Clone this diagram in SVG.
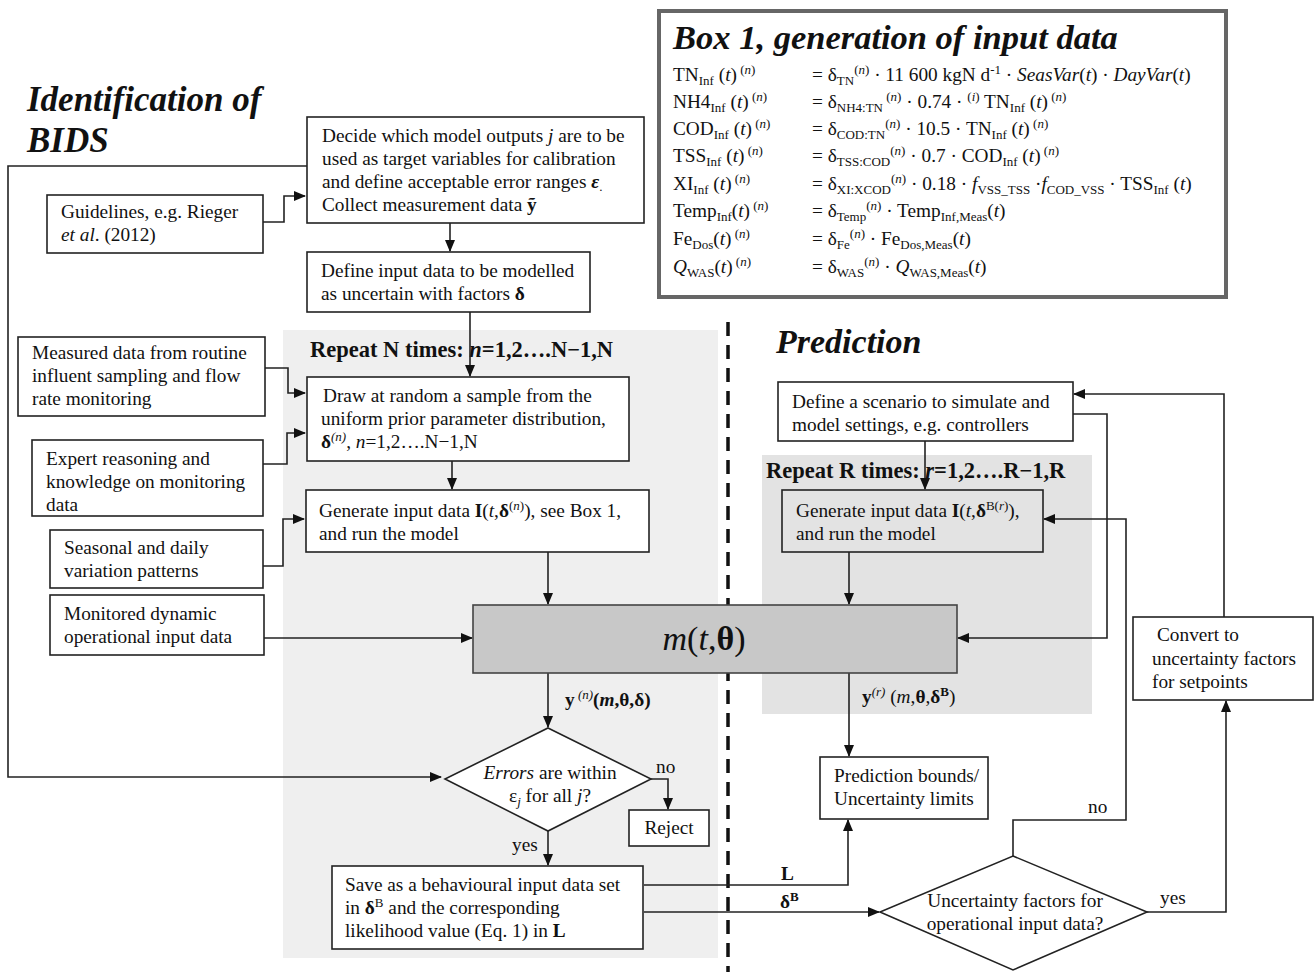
<svg xmlns="http://www.w3.org/2000/svg" width="1316" height="972" viewBox="0 0 1316 972">
<style>
text{font-family:"Liberation Serif","Times New Roman",serif;font-size:19.3px;fill:#111}
.h{font-weight:bold;font-style:italic;font-size:35px}
.rep{font-weight:bold;font-size:22.5px}
.box{fill:#fff;stroke:#222;stroke-width:1.6}
.ln{fill:none;stroke:#222;stroke-width:1.6}
.i{font-style:italic}
.b{font-weight:bold}
.sm{font-size:13px}
.mid{text-anchor:middle}
</style>
<defs>
<marker id="ah" markerWidth="12" markerHeight="10" refX="11" refY="5" orient="auto" markerUnits="userSpaceOnUse">
<path d="M0,0 L12,5 L0,10 z" fill="#111"/>
</marker>
</defs>
<rect width="1316" height="972" fill="#fff"/>
<!-- regions -->
<rect x="283" y="330" width="435" height="628" fill="#efefef"/>
<rect x="762" y="455" width="330" height="259" fill="#e3e3e3"/>
<line x1="728" y1="322" x2="728" y2="972" stroke="#111" stroke-width="3.5" stroke-dasharray="14 9"/>

<!-- titles -->
<text class="h" x="27" y="111">Identification of</text>
<text class="h" x="27" y="152">BIDS</text>
<text class="h" x="776" y="353" style="font-size:34px">Prediction</text>
<text class="rep" x="310" y="357">Repeat N times: <tspan class="i">n</tspan>=1,2….N−1,N</text>
<text class="rep" x="766" y="478">Repeat R times: <tspan class="i">r</tspan>=1,2….R−1,R</text>

<!-- Box 1 -->
<g id="box1">
<rect x="659" y="11" width="567" height="286" fill="#fff" stroke="#666" stroke-width="4"/>
<text x="673" y="49" style="font-weight:bold;font-style:italic;font-size:34.5px">Box 1, generation of input data</text>
<text x="673" y="81">TN<tspan class="sm" baseline-shift="-4">Inf</tspan> (<tspan class="i">t</tspan>)<tspan class="sm" baseline-shift="7"> (<tspan class="i">n</tspan>)</tspan></text>
<text x="812" y="81">= δ<tspan class="sm" baseline-shift="-4">TN</tspan><tspan class="sm" baseline-shift="7">(<tspan class="i">n</tspan>)</tspan> · 11 600 kgN d<tspan class="sm" baseline-shift="7">-1</tspan> · <tspan class="i">SeasVar</tspan>(<tspan class="i">t</tspan>) · <tspan class="i">DayVar</tspan>(<tspan class="i">t</tspan>)</text>
<text x="673" y="108">NH4<tspan class="sm" baseline-shift="-4">Inf</tspan> (<tspan class="i">t</tspan>)<tspan class="sm" baseline-shift="7"> (<tspan class="i">n</tspan>)</tspan></text>
<text x="812" y="108">= δ<tspan class="sm" baseline-shift="-4">NH4:TN</tspan><tspan class="sm" baseline-shift="7"> (<tspan class="i">n</tspan>)</tspan> · 0.74 · <tspan class="sm" baseline-shift="7">(<tspan class="i">i</tspan>)</tspan> TN<tspan class="sm" baseline-shift="-4">Inf</tspan> (<tspan class="i">t</tspan>)<tspan class="sm" baseline-shift="7"> (<tspan class="i">n</tspan>)</tspan></text>
<text x="673" y="135">COD<tspan class="sm" baseline-shift="-4">Inf</tspan> (<tspan class="i">t</tspan>)<tspan class="sm" baseline-shift="7"> (<tspan class="i">n</tspan>)</tspan></text>
<text x="812" y="135">= δ<tspan class="sm" baseline-shift="-4">COD:TN</tspan><tspan class="sm" baseline-shift="7">(<tspan class="i">n</tspan>)</tspan> · 10.5 · TN<tspan class="sm" baseline-shift="-4">Inf</tspan> (<tspan class="i">t</tspan>)<tspan class="sm" baseline-shift="7"> (<tspan class="i">n</tspan>)</tspan></text>
<text x="673" y="162">TSS<tspan class="sm" baseline-shift="-4">Inf</tspan> (<tspan class="i">t</tspan>)<tspan class="sm" baseline-shift="7"> (<tspan class="i">n</tspan>)</tspan></text>
<text x="812" y="162">= δ<tspan class="sm" baseline-shift="-4">TSS:COD</tspan><tspan class="sm" baseline-shift="7">(<tspan class="i">n</tspan>)</tspan> · 0.7 · COD<tspan class="sm" baseline-shift="-4">Inf</tspan> (<tspan class="i">t</tspan>)<tspan class="sm" baseline-shift="7"> (<tspan class="i">n</tspan>)</tspan></text>
<text x="673" y="190">XI<tspan class="sm" baseline-shift="-4">Inf</tspan> (<tspan class="i">t</tspan>)<tspan class="sm" baseline-shift="7"> (<tspan class="i">n</tspan>)</tspan></text>
<text x="812" y="190">= δ<tspan class="sm" baseline-shift="-4">XI:XCOD</tspan><tspan class="sm" baseline-shift="7">(<tspan class="i">n</tspan>)</tspan> · 0.18 · <tspan class="i">f</tspan><tspan class="sm" baseline-shift="-4">VSS_TSS</tspan> ·<tspan class="i">f</tspan><tspan class="sm" baseline-shift="-4">COD_VSS</tspan> · TSS<tspan class="sm" baseline-shift="-4">Inf</tspan> (<tspan class="i">t</tspan>)</text>
<text x="673" y="217">Temp<tspan class="sm" baseline-shift="-4">Inf</tspan>(<tspan class="i">t</tspan>)<tspan class="sm" baseline-shift="7"> (<tspan class="i">n</tspan>)</tspan></text>
<text x="812" y="217">= δ<tspan class="sm" baseline-shift="-4">Temp</tspan><tspan class="sm" baseline-shift="7">(<tspan class="i">n</tspan>)</tspan> · Temp<tspan class="sm" baseline-shift="-4">Inf,Meas</tspan>(<tspan class="i">t</tspan>)</text>
<text x="673" y="245">Fe<tspan class="sm" baseline-shift="-4">Dos</tspan>(<tspan class="i">t</tspan>)<tspan class="sm" baseline-shift="7"> (<tspan class="i">n</tspan>)</tspan></text>
<text x="812" y="245">= δ<tspan class="sm" baseline-shift="-4">Fe</tspan><tspan class="sm" baseline-shift="7">(<tspan class="i">n</tspan>)</tspan> · Fe<tspan class="sm" baseline-shift="-4">Dos,Meas</tspan>(<tspan class="i">t</tspan>)</text>
<text x="673" y="273"><tspan class="i">Q</tspan><tspan class="sm" baseline-shift="-4">WAS</tspan>(<tspan class="i">t</tspan>)<tspan class="sm" baseline-shift="7"> (<tspan class="i">n</tspan>)</tspan></text>
<text x="812" y="273">= δ<tspan class="sm" baseline-shift="-4">WAS</tspan><tspan class="sm" baseline-shift="7">(<tspan class="i">n</tspan>)</tspan> · <tspan class="i">Q</tspan><tspan class="sm" baseline-shift="-4">WAS,Meas</tspan>(<tspan class="i">t</tspan>)</text>
</g>

<!-- connectors -->
<g id="connectors">
<polyline class="ln" points="307,166 8,166 8,777 441,777" marker-end="url(#ah)"/>
<polyline class="ln" points="263,222 284,222 284,196 305,196" marker-end="url(#ah)"/>
<line class="ln" x1="450" y1="223" x2="450" y2="251" marker-end="url(#ah)"/>
<line class="ln" x1="470" y1="312" x2="470" y2="376" marker-end="url(#ah)"/>
<polyline class="ln" points="265,368 288,368 288,393 305,393" marker-end="url(#ah)"/>
<polyline class="ln" points="263,464 287,464 287,433 305,433" marker-end="url(#ah)"/>
<line class="ln" x1="452" y1="461" x2="452" y2="489" marker-end="url(#ah)"/>
<polyline class="ln" points="261,566 283,566 283,519 304,519" marker-end="url(#ah)"/>
<line class="ln" x1="264" y1="638" x2="472" y2="638" marker-end="url(#ah)"/>
<line class="ln" x1="548" y1="552" x2="548" y2="604" marker-end="url(#ah)"/>
<line class="ln" x1="548" y1="673" x2="548" y2="727" marker-end="url(#ah)"/>
<polyline class="ln" points="651,779 668,779 668,809" marker-end="url(#ah)"/>
<line class="ln" x1="548" y1="831" x2="548" y2="865" marker-end="url(#ah)"/>
<polyline class="ln" points="644,885 848,885 848,820" marker-end="url(#ah)"/>
<line class="ln" x1="644" y1="912" x2="879" y2="912" marker-end="url(#ah)"/>
<line class="ln" x1="925" y1="441" x2="925" y2="489" marker-end="url(#ah)"/>
<line class="ln" x1="849" y1="552" x2="849" y2="604" marker-end="url(#ah)"/>
<polyline class="ln" points="1073,414 1107,414 1107,638 958,638" marker-end="url(#ah)"/>
<polyline class="ln" points="1224,617 1224,394 1074,394" marker-end="url(#ah)"/>
<line class="ln" x1="849" y1="673" x2="849" y2="756" marker-end="url(#ah)"/>
<polyline class="ln" points="1013,856 1013,820 1126,820 1126,519 1044,519" marker-end="url(#ah)"/>
<polyline class="ln" points="1147,912 1226,912 1226,701" marker-end="url(#ah)"/>
</g>

<!-- labels -->
<text class="b" x="565" y="706">y<tspan class="sm i" style="font-weight:normal" baseline-shift="7"> (n)</tspan>(<tspan class="i">m</tspan>,θ,δ)</text>
<text x="656" y="773">no</text>
<text x="512" y="851">yes</text>
<text class="b" x="781" y="880">L</text>
<text class="b" x="780" y="908">δ<tspan class="sm" baseline-shift="7">B</tspan></text>
<text x="862" y="703"><tspan class="b">y</tspan><tspan class="sm i" baseline-shift="7">(r)</tspan> (<tspan class="i">m</tspan>,<tspan class="b">θ</tspan>,<tspan class="b">δ</tspan><tspan class="sm b" baseline-shift="7">B</tspan>)</text>
<text x="1088" y="813">no</text>
<text x="1160" y="904">yes</text>

<!-- nodes -->
<g id="decide">
<rect class="box" x="307" y="117" width="337" height="106"/>
<text x="322" y="142">Decide which model outputs <tspan class="i">j</tspan> are to be</text>
<text x="322" y="165">used as target variables for calibration</text>
<text x="322" y="188">and define acceptable error ranges <tspan class="b i">ε</tspan><tspan class="sm" baseline-shift="-3">.</tspan></text>
<text x="322" y="211">Collect measurement data <tspan class="b">ỹ</tspan></text>
</g>
<g id="guidelines">
<rect class="box" x="47" y="195" width="216" height="58"/>
<text x="61" y="218">Guidelines, e.g. Rieger</text>
<text x="61" y="241"><tspan class="i">et al</tspan>. (2012)</text>
</g>
<g id="defineinput">
<rect class="box" x="307" y="252" width="283" height="60"/>
<text x="321" y="277">Define input data to be modelled</text>
<text x="321" y="300">as uncertain with factors <tspan class="b">δ</tspan></text>
</g>
<g id="measured">
<rect class="box" x="18" y="337" width="247" height="79"/>
<text x="32" y="359">Measured data from routine</text>
<text x="32" y="382">influent sampling and flow</text>
<text x="32" y="405">rate monitoring</text>
</g>
<g id="draw">
<rect class="box" x="307" y="377" width="322" height="84"/>
<text x="323" y="402">Draw at random a sample from the</text>
<text x="321" y="425">uniform prior parameter distribution,</text>
<text x="321" y="448"><tspan class="b">δ</tspan><tspan class="sm i" baseline-shift="7">(n)</tspan>, <tspan class="i">n</tspan>=1,2….N−1,N</text>
</g>
<g id="expert">
<rect class="box" x="32" y="440" width="231" height="76"/>
<text x="46" y="465">Expert reasoning and</text>
<text x="46" y="488">knowledge on monitoring</text>
<text x="46" y="511">data</text>
</g>
<g id="generate">
<rect class="box" x="306" y="490" width="343" height="62"/>
<text x="319" y="517">Generate input data <tspan class="b">I</tspan>(<tspan class="i">t</tspan>,<tspan class="b">δ</tspan><tspan class="sm" baseline-shift="7">(<tspan class="i">n</tspan>)</tspan>), see Box 1,</text>
<text x="319" y="540">and run the model</text>
</g>
<g id="seasonal">
<rect class="box" x="50" y="530" width="213" height="58"/>
<text x="64" y="554">Seasonal and daily</text>
<text x="64" y="577">variation patterns</text>
</g>
<g id="monitored">
<rect class="box" x="50" y="595" width="214" height="60"/>
<text x="64" y="620">Monitored dynamic</text>
<text x="64" y="643">operational input data</text>
</g>
<g id="model">
<rect x="473" y="605" width="484" height="68" fill="#c8c8c8" stroke="#444" stroke-width="1.6"/>
<text class="mid" x="704" y="650" style="font-size:34px"><tspan class="i">m</tspan>(<tspan class="i">t</tspan>,<tspan class="b">θ</tspan>)</text>
</g>
<g id="errors">
<polygon points="548,728 651,779 548,831 445,779" fill="#fff" stroke="#222" stroke-width="1.6"/>
<text class="mid" x="550" y="779"><tspan class="i">Errors</tspan> are within</text>
<text class="mid" x="550" y="802">ε<tspan class="sm i" baseline-shift="-4">j</tspan> for all <tspan class="i">j</tspan>?</text>
</g>
<g id="reject">
<rect class="box" x="629" y="810" width="80" height="36"/>
<text class="mid" x="669" y="834">Reject</text>
</g>
<g id="save">
<rect class="box" x="332" y="866" width="311" height="83"/>
<text x="345" y="891">Save as a behavioural input data set</text>
<text x="345" y="914">in <tspan class="b">δ</tspan><tspan class="sm" baseline-shift="7">B</tspan> and the corresponding</text>
<text x="345" y="937">likelihood value (Eq. 1) in  <tspan class="b">L</tspan></text>
</g>
<g id="scenario">
<rect class="box" x="778" y="382" width="295" height="59"/>
<text x="792" y="408">Define a scenario to simulate and</text>
<text x="792" y="431">model settings, e.g. controllers</text>
</g>
<g id="generate2">
<rect x="782" y="490" width="261" height="62" fill="#e3e3e3" stroke="#222" stroke-width="1.6"/>
<text x="796" y="517">Generate input data <tspan class="b">I</tspan>(<tspan class="i">t</tspan>,<tspan class="b">δ</tspan><tspan class="sm" baseline-shift="7">B(<tspan class="i">r</tspan>)</tspan>),</text>
<text x="796" y="540">and run the model</text>
</g>
<g id="convert">
<rect class="box" x="1133" y="617" width="180" height="83"/>
<text x="1157" y="641">Convert to</text>
<text x="1152" y="665">uncertainty factors</text>
<text x="1152" y="688">for setpoints</text>
</g>
<g id="bounds">
<rect class="box" x="820" y="757" width="168" height="62"/>
<text x="834" y="782">Prediction bounds/</text>
<text x="834" y="805">Uncertainty limits</text>
</g>
<g id="uncert">
<polygon points="1013,856 1147,912 1013,970 880,912" fill="#fff" stroke="#222" stroke-width="1.6"/>
<text class="mid" x="1015" y="907">Uncertainty factors for</text>
<text class="mid" x="1015" y="930">operational input data?</text>
</g>
</svg>
